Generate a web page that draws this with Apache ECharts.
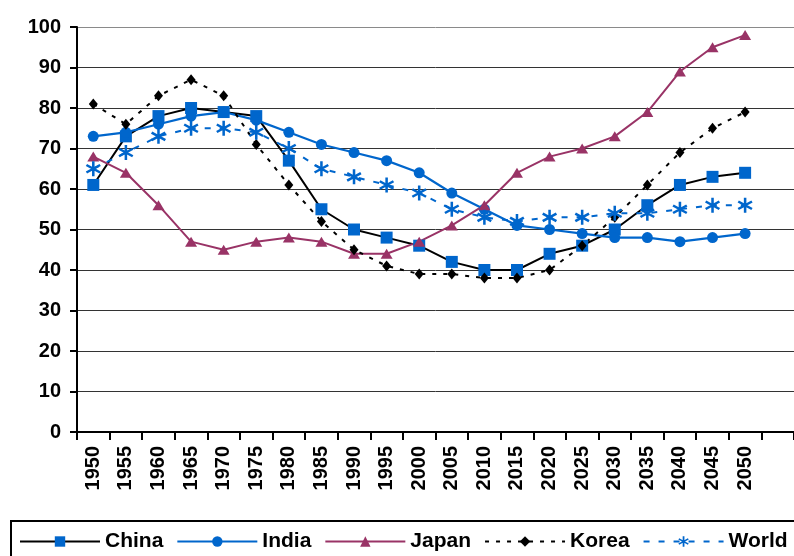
<!DOCTYPE html>
<html>
<head>
<meta charset="utf-8">
<script src="https://cdn.jsdelivr.net/npm/echarts@6/dist/echarts.min.js"></script>
<style>
html,body{margin:0;padding:0;background:#fff;}
#chart{width:794px;height:556px;}
</style>
</head>
<body>
<div id="chart"></div>
<script>
const years = ['1950','1955','1960','1965','1970','1975','1980','1985','1990','1995','2000','2005','2010','2015','2020','2025','2030','2035','2040','2045','2050',''];
const china = [61,73,78,80,79,78,67,55,50,48,46,42,40,40,44,46,50,56,61,63,64];
const india = [73,74,76,78,79,77,74,71,69,67,64,59,55,51,50,49,48,48,47,48,49];
const japan = [68,64,56,47,45,47,48,47,44,44,47,51,56,64,68,70,73,79,89,95,98];
const korea = [81,76,83,87,83,71,61,52,45,41,39,39,38,38,40,46,53,61,69,75,79];
const world = [65,69,73,75,75,74,70,65,63,61,59,55,53,52,53,53,54,54,55,56,56];
const yTicks = [0,10,20,30,40,50,60,70,80,90,100];

const asterisk = 'path://M8.4,0 L11.6,0 L11.6,20 L8.4,20 Z M0.54,6.386 L2.14,3.614 L19.46,13.614 L17.86,16.386 Z M0.54,13.614 L17.86,3.614 L19.46,6.386 L2.14,16.386 Z';
const FONT = "'Liberation Sans', Arial, sans-serif";
const blue = '#0066CC', plum = '#993366';

const chart = echarts.init(document.getElementById('chart'), null, {renderer:'canvas'});
const gridColors = yTicks.map((v,i)=> i===yTicks.length-1 ? '#8a8a8a' : '#333');
chart.setOption({
  backgroundColor:'#fff',
  animation:false,
  grid:{left:77, right:-2, top:27, bottom:124},
  xAxis:{
    type:'category', data:years, boundaryGap:true,
    axisLine:{lineStyle:{color:'#000', width:2}},
    axisTick:{show:true, length:8, lineStyle:{color:'#000', width:2}, alignWithLabel:false, interval:0},
    axisLabel:{rotate:90, margin:14, interval:0, color:'#000', fontWeight:'bold', fontSize:20, fontFamily:FONT},
    splitLine:{show:false}
  },
  yAxis:{
    type:'value', min:0, max:100, interval:10,
    axisLine:{show:true, lineStyle:{color:'#000', width:2}},
    axisTick:{show:true, length:7, lineStyle:{color:'#000', width:2}},
    axisLabel:{margin:16, color:'#000', fontWeight:'bold', fontSize:20, fontFamily:FONT},
    splitLine:{show:true, lineStyle:{color:gridColors, width:1}}
  },
  legend:{
    left:19, top:531, padding:0, itemGap:13, itemWidth:80, itemHeight:13,
    textStyle:{color:'#000', fontWeight:'bold', fontSize:21, fontFamily:FONT},
    data:['China','India','Japan','Korea','World']
  },
  graphic:[{type:'rect', shape:{x:11, y:521, width:800, height:60}, style:{fill:'none', stroke:'#000', lineWidth:2}, silent:true}],
  series:[
    {name:'China', type:'line', data:china, symbol:'rect', symbolSize:12,
     lineStyle:{color:'#000', width:2}, itemStyle:{color:blue}},
    {name:'India', type:'line', data:india, symbol:'circle', symbolSize:11,
     lineStyle:{color:blue, width:2.2}, itemStyle:{color:blue}},
    {name:'Japan', type:'line', data:japan, symbol:'triangle', symbolSize:[12,10],
     lineStyle:{color:plum, width:2}, itemStyle:{color:plum}},
    {name:'Korea', type:'line', data:korea, symbol:'diamond', symbolSize:[9,11],
     lineStyle:{color:'#000', width:2, type:[4,7]}, itemStyle:{color:'#000'}},
    {name:'World', type:'line', data:world, symbol:asterisk, symbolSize:15,
     lineStyle:{color:blue, width:2, type:[6,9]}, itemStyle:{color:blue}}
  ]
});
</script>
</body>
</html>
